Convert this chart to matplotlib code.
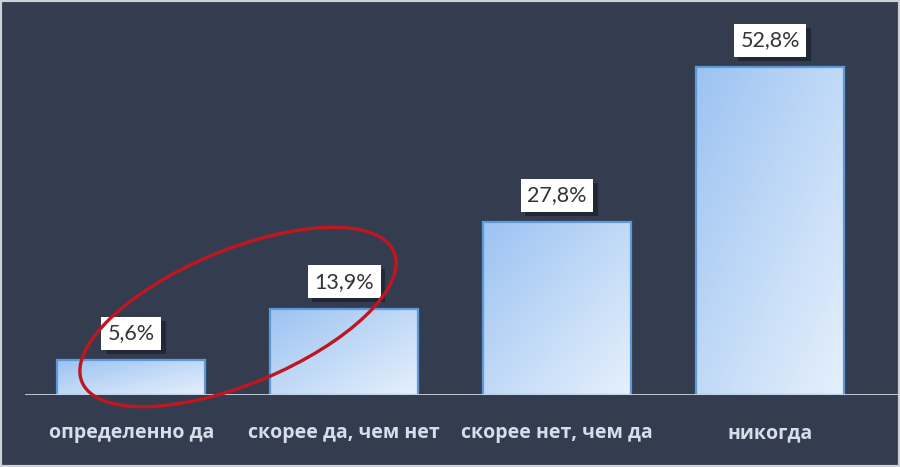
import matplotlib
matplotlib.use("Agg")
import matplotlib.pyplot as plt
import matplotlib.patheffects as pe
import numpy as np
from matplotlib.patches import Rectangle, Ellipse
from matplotlib.transforms import IdentityTransform

categories = ["определенно да", "скорее да, чем нет", "скорее нет, чем да", "никогда"]
values = [5.6, 13.9, 27.8, 52.8]
labels = ["5,6%", "13,9%", "27,8%", "52,8%"]

bg = "#343d4f"
num_fonts = ["Lato", "Open Sans", "DejaVu Sans"]
cat_fonts = ["Open Sans", "DejaVu Sans"]

fig = plt.figure(figsize=(9, 4.67), dpi=100, facecolor=bg)
ax = fig.add_axes([25 / 900, 72 / 467, 875 / 900, 395 / 467])
ax.set_facecolor(bg)
ax.set_xlim(-0.5, 3.61)
ax.set_ylim(0, 63.6)
for s in ax.spines.values():
    s.set_visible(False)
ax.set_xticks([])
ax.set_yticks([])
ax.axhline(0, color="#e6ebf2", lw=1.1, zorder=4)

# diagonal gradient: light blue top-left -> very pale bottom-right
gx, gy = np.meshgrid(np.linspace(0, 1, 60), np.linspace(0, 1, 60))
t = np.clip((gx + gy) / 2, 0, 1)
c0 = np.array([0x9c, 0xc3, 0xf2]) / 255
c1 = np.array([0xe6, 0xf0, 0xfc]) / 255
grad = c0 + (c1 - c0) * t[..., None]

width = 0.695
x = np.arange(len(values))
bars = ax.bar(x, values, width=width, color="none", edgecolor="#5d98d8", lw=1.6, zorder=3)
for b in bars:
    x0, w, h = b.get_x(), b.get_width(), b.get_height()
    im = ax.imshow(grad, extent=(x0, x0 + w, 0, h), origin="upper", aspect="auto", zorder=2)
    im.set_clip_path(b)

for xi, v, lab in zip(x, values, labels):
    ypos = v + 27 / 6.21
    txt = ax.text(xi, ypos, lab, ha="center", va="center", fontsize=15.5, family=num_fonts,
                  color="#333333", zorder=6,
                  bbox=dict(boxstyle="square,pad=0.3", fc="white", ec="none"))
    txt.get_bbox_patch().set_path_effects(
        [pe.SimplePatchShadow(offset=(3, -3), shadow_rgbFace="#151a24", alpha=0.6), pe.Normal()])

for xi, cat in zip(x, categories):
    ax.text(xi, -38 / 6.21, cat, ha="center", va="center", fontsize=14, fontweight="bold",
            family=cat_fonts, color="#d6deeb")

# red highlight ellipse around the first two labels
ell = Ellipse((238, 467 - 317), 338, 134, angle=22.6, fill=False, ec="#c0161f", lw=2.4,
              transform=IdentityTransform(), zorder=7)
fig.patches.append(ell)

fig.patches.append(Rectangle((0, 0), 1, 1, transform=fig.transFigure, fill=False,
                             ec="#cdd2d9", lw=3, zorder=10))

fig.savefig("out.png", dpi=100, facecolor=bg)
